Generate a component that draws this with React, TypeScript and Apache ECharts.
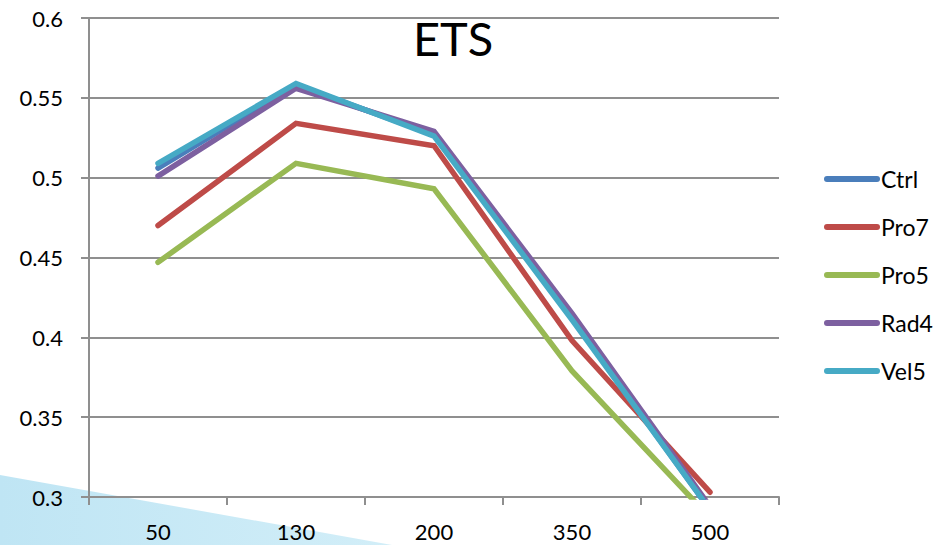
import React, { useEffect, useRef } from "react";
import * as echarts from "echarts";

// Chart data
const categories = ["50", "130", "200", "350", "500"];
const ctrl = [0.506, 0.558, 0.527, 0.412, 0.292];
const pro7 = [0.47, 0.534, 0.52, 0.398, 0.303];
const pro5 = [0.447, 0.509, 0.493, 0.379, 0.287];
const rad4 = [0.501, 0.556, 0.529, 0.415, 0.294];
const vel5 = [0.509, 0.559, 0.526, 0.411, 0.292];

const seriesNames = ["Ctrl", "Pro7", "Pro5", "Rad4", "Vel5"];
const seriesData = [ctrl, pro7, pro5, rad4, vel5];
const seriesColors = ["#4A7EBB", "#BE4B48", "#98B954", "#7D60A0", "#46AAC5"];

const FONT = "Lato, 'Open Sans', sans-serif";

// capsule-shaped legend swatch (a thick line with round ends)
const CAPSULE = "path://M3,0 L53,0 A3,3 0 0 1 53,6 L3,6 A3,3 0 0 1 3,0 Z";

export default function App() {
  const ref = useRef<HTMLDivElement>(null);

  useEffect(() => {
    if (!ref.current) return;
    const chart = echarts.init(ref.current, undefined, { renderer: "svg" });
    chart.setOption({
      animation: false,
      backgroundColor: "#ffffff",
      title: {
        text: "ETS",
        left: 448,
        top: 9,
        textAlign: "center",
        textStyle: { fontFamily: FONT, fontSize: 47, fontWeight: "normal", color: "#000" },
      },
      graphic: [
        {
          type: "polygon",
          z: -10,
          silent: true,
          shape: { points: [[0, 475], [392, 545], [0, 545]] },
          style: {
            fill: new echarts.graphic.LinearGradient(0, 0, 1, 0, [
              { offset: 0, color: "#bfe5f4" },
              { offset: 1, color: "#d2eef8" },
            ]),
          },
        },
      ],
      legend: {
        orient: "vertical",
        left: 819,
        top: 160,
        itemGap: 20,
        itemWidth: 56,
        itemHeight: 6,
        icon: CAPSULE,
        data: seriesNames,
        textStyle: {
          fontFamily: FONT,
          fontSize: 23,
          lineHeight: 28,
          color: "#000",
          padding: [0, 0, 0, -4],
        },
      },
      grid: { left: 89, right: 156, top: 18, bottom: 48 },
      xAxis: {
        type: "category",
        data: categories,
        boundaryGap: true,
        axisLine: { lineStyle: { color: "#8f8f8f", width: 2 } },
        axisTick: { show: true, length: 8, lineStyle: { color: "#8f8f8f", width: 2 } },
        axisLabel: { fontFamily: FONT, fontSize: 22, color: "#000", margin: 23 },
      },
      yAxis: {
        type: "value",
        min: 0.3,
        max: 0.6,
        interval: 0.05,
        axisLine: { show: true, lineStyle: { color: "#8f8f8f", width: 2 } },
        axisTick: { show: true, length: 8, lineStyle: { color: "#8f8f8f", width: 2 } },
        axisLabel: { fontFamily: FONT, fontSize: 22, color: "#000", margin: 26 },
        splitLine: { lineStyle: { color: "#8f8f8f", width: 2 } },
      },
      series: seriesNames.map((name, i) => ({
        name,
        type: "line",
        data: seriesData[i],
        color: seriesColors[i],
        symbol: "none",
        showSymbol: false,
        clip: true,
        lineStyle: { width: 5.5, color: seriesColors[i], cap: "round", join: "miter" },
      })),
    });
    return () => chart.dispose();
  }, []);

  return (
    <div
      ref={ref}
      style={{ position: "fixed", left: 0, top: 0, width: 935, height: 545 }}
    />
  );
}
